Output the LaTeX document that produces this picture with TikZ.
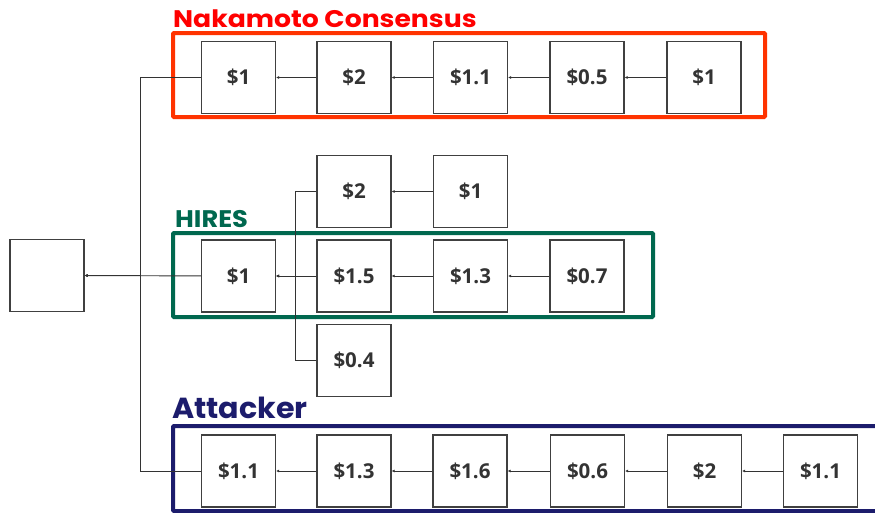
\documentclass[tikz,border=0pt]{standalone}
\usepackage{fontspec}
\setmainfont{Open Sans}
\newfontfamily\ttlfont{Poppins}
\usetikzlibrary{arrows.meta}
\definecolor{nkred}{HTML}{FF3300}
\definecolor{nktext}{HTML}{FF0000}
\definecolor{hgreen}{HTML}{00684F}
\definecolor{anavy}{HTML}{1C1C6C}
\definecolor{boxline}{HTML}{404040}
\definecolor{lbl}{HTML}{333333}
\begin{document}
\begin{tikzpicture}[x=1pt,y=-1pt,
 blk/.style={draw=boxline,line width=1.3pt,minimum width=74pt,minimum height=72pt,inner sep=0pt,font=\fontsize{20.5}{24}\selectfont\bfseries,text=lbl},
 link/.style={draw=black!80,line width=0.9pt,-{Latex[length=3pt,width=3pt]}},
 frame/.style={line width=4pt,rounded corners=1pt},
 ttl/.style={font=\ttlfont\bfseries\fontsize{24}{28}\selectfont,anchor=base west,inner sep=0pt}]
\useasboundingbox (0,0) rectangle (875,512);
% frames
\draw[frame,draw=nkred] (173,33) rectangle (765,117);
\draw[frame,draw=hgreen] (173,233) rectangle (653,317);
\draw[frame,draw=anavy] (173,426) rectangle (895,511);
% titles
\node[ttl,text=nktext] (tn) at (173,27) {\scalebox{1.11}[1]{Nakamoto Consensus}};
\node[ttl,text=hgreen] (th) at (175,227) {\scalebox{1.07}[1]{HIRES}};
\node[ttl,text=anavy,font=\ttlfont\bfseries\fontsize{29}{32}\selectfont] (ta) at (172,418) {\scalebox{1.04}[1]{Attacker}};
% genesis
\node[blk] (gen) at (47,275.5) {};
% Nakamoto
\node[blk] (n1) at (238.5,77.5) {\$1};
\node[blk] (n2) at (354,77.5) {\$2};
\node[blk] (n3) at (470.5,77.5) {\$1.1};
\node[blk] (n4) at (587,77.5) {\$0.5};
\node[blk] (n5) at (704,77.5) {\$1};
% HIRES
\node[blk] (h1) at (238.5,276) {\$1};
\node[blk] (h2) at (354,276) {\$1.5};
\node[blk] (h3) at (470.5,276) {\$1.3};
\node[blk] (h4) at (587,276) {\$0.7};
\node[blk] (u1) at (354,191.5) {\$2};
\node[blk] (u2) at (470.5,191.5) {\$1};
\node[blk] (o1) at (354,360.5) {\$0.4};
% Attacker
\node[blk] (a1) at (238.5,471) {\$1.1};
\node[blk] (a2) at (354,471) {\$1.3};
\node[blk] (a3) at (470,471) {\$1.6};
\node[blk] (a4) at (587.5,471) {\$0.6};
\node[blk] (a5) at (704.5,471) {\$2};
\node[blk] (a6) at (820.5,471) {\$1.1};
% links
\draw[link] (n2) -- (n1);
\draw[link] (n3) -- (n2);
\draw[link] (n4) -- (n3);
\draw[link] (n5) -- (n4);
\draw[link] (h2) -- (h1);
\draw[link] (h3) -- (h2);
\draw[link] (h4) -- (h3);
\draw[link] (u2) -- (u1);
\draw[link] (u1.west) -- ++(-21,0) |- (h1.east);
\draw[link] (o1.west) -- ++(-21,0) |- (h1.east);
\draw[link] (a2) -- (a1);
\draw[link] (a3) -- (a2);
\draw[link] (a4) -- (a3);
\draw[link] (a5) -- (a4);
\draw[link] (a6) -- (a5);
\draw[link] (h1) -- (gen);
\draw[link] (n1.west) -- ++(-60,0) |- (gen.east);
\draw[link] (a1.west) -- ++(-60,0) |- (gen.east);
\end{tikzpicture}
\end{document}
